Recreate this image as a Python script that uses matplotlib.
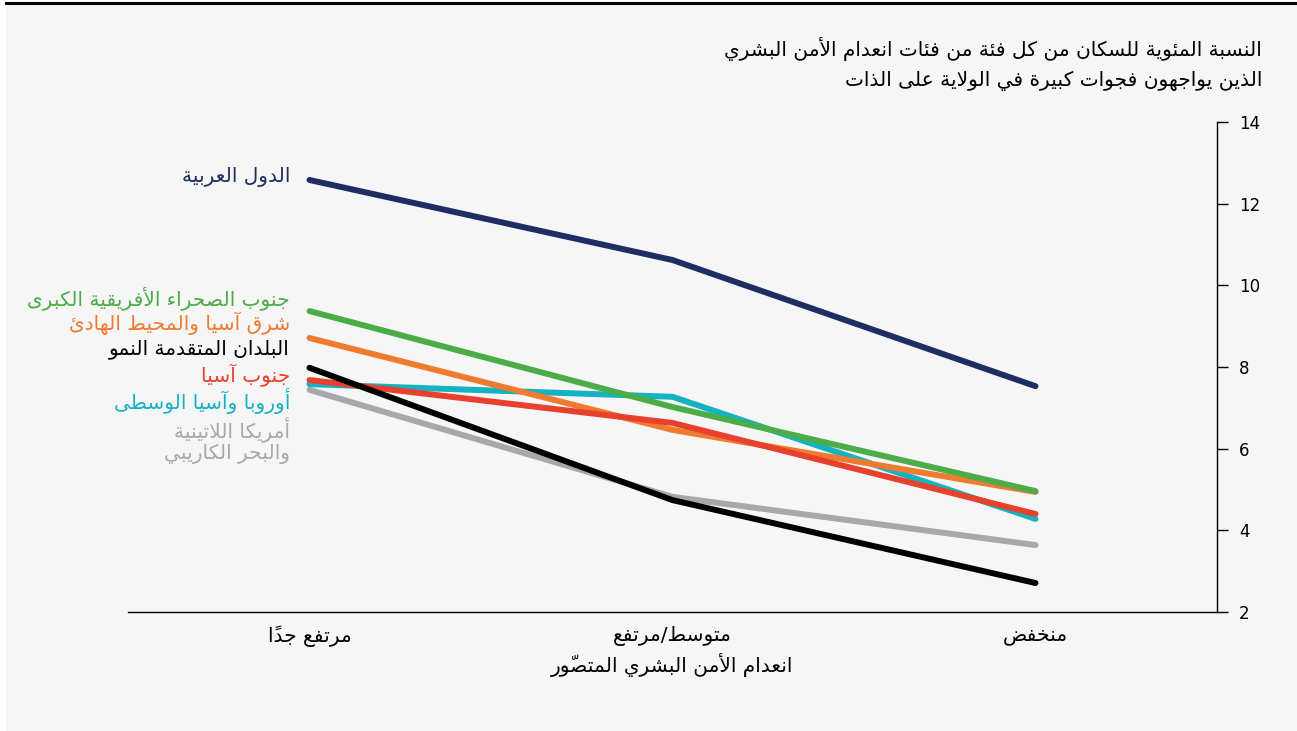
import matplotlib
matplotlib.use("Agg")
import matplotlib.pyplot as plt
from matplotlib.patches import Rectangle
from matplotlib.lines import Line2D

plt.rcParams['font.family'] = ['DejaVu Sans']

# --- data -------------------------------------------------------------
categories = ["مرتفع جداً", "متوسط/مرتفع", "منخفض"]
regions = [
    "أمريكا اللاتينية\nوالبحر الكاريبي",
    "أوروبا وآسيا الوسطى",
    "شرق آسيا والمحيط الهادئ",
    "جنوب الصحراء الأفريقية الكبرى",
    "جنوب آسيا",
    "البلدان المتقدمة النمو",
    "الدول العربية",
]
latam = [7.44, 4.82, 3.64]
eca = [7.58, 7.27, 4.28]
eap = [8.71, 6.46, 4.94]
ssa = [9.37, 7.02, 4.96]
sa = [7.68, 6.63, 4.40]
developed = [7.98, 4.74, 2.71]
arab = [12.58, 10.62, 7.53]
series = [latam, eca, eap, ssa, sa, developed, arab]
colors = ["#a7a8ac", "#15b2c1", "#ef7b31", "#4cac47", "#e7402d", "#000000", "#1e2d62"]
# where each region name sits, in y units of the axis
label_y = [6.21, 7.17, 9.08, 9.69, 7.80, 8.44, 12.65]

yticks = [2, 4, 6, 8, 10, 12, 14]
title = "النسبة المئوية للسكان من كل فئة من فئات انعدام الأمن البشري\nالذين يواجهون فجوات كبيرة في الولاية على الذات"
xlabel = "انعدام الأمن البشري المتصوّر"

# --- minimal arabic shaping (matplotlib has no bidi / joining) ---------
DUAL = {'ئ': 0xFE89, 'ب': 0xFE8F, 'ت': 0xFE95, 'ث': 0xFE99, 'ج': 0xFE9D,
        'ح': 0xFEA1, 'خ': 0xFEA5, 'س': 0xFEB1, 'ش': 0xFEB5, 'ص': 0xFEB9,
        'ض': 0xFEBD, 'ط': 0xFEC1, 'ظ': 0xFEC5, 'ع': 0xFEC9, 'غ': 0xFECD,
        'ف': 0xFED1, 'ق': 0xFED5, 'ك': 0xFED9, 'ل': 0xFEDD, 'م': 0xFEE1,
        'ن': 0xFEE5, 'ه': 0xFEE9, 'ي': 0xFEF1}
RIGHT = {'آ': 0xFE81, 'أ': 0xFE83, 'ؤ': 0xFE85, 'إ': 0xFE87, 'ا': 0xFE8D,
         'ة': 0xFE93, 'د': 0xFEA9, 'ذ': 0xFEAB, 'ر': 0xFEAD, 'ز': 0xFEAF,
         'و': 0xFEED, 'ى': 0xFEEF}
LAM_ALEF = {'آ': 0xFEF5, 'أ': 0xFEF7, 'إ': 0xFEF9, 'ا': 0xFEFB}
ISOLATED = {'ء': 0xFE80}


def is_mark(c):
    return 0x064B <= ord(c) <= 0x0652 or ord(c) == 0x0670


def shape_line(line):
    clusters = []
    for c in line:
        if is_mark(c) and clusters:
            clusters[-1][1] += c
        else:
            clusters.append([c, ""])
    # merge lam + alef into one ligature cluster
    merged = []
    i = 0
    while i < len(clusters):
        base, marks = clusters[i]
        if base == 'ل' and i + 1 < len(clusters) and clusters[i + 1][0] in LAM_ALEF:
            merged.append(["LA" + clusters[i + 1][0], marks + clusters[i + 1][1]])
            i += 2
        else:
            merged.append([base, marks])
            i += 1

    def jtype(b):
        if b in DUAL:
            return 'D'
        if b in RIGHT or b.startswith("LA"):
            return 'R'
        return 'U'

    types = [jtype(b) for b, _ in merged]
    out = []
    for k, (b, marks) in enumerate(merged):
        t = types[k]
        prev_j = k > 0 and types[k - 1] == 'D' and t in 'DR'
        next_j = t == 'D' and k + 1 < len(merged) and types[k + 1] in 'DR'
        if b.startswith("LA"):
            g = chr(LAM_ALEF[b[2]] + (1 if prev_j else 0))
        elif t == 'D':
            idx = 3 if (prev_j and next_j) else 1 if prev_j else 2 if next_j else 0
            g = chr(DUAL[b] + idx)
        elif t == 'R':
            g = chr(RIGHT[b] + (1 if prev_j else 0))
        elif b in ISOLATED:
            g = chr(ISOLATED[b])
        else:
            g = b
        out.append(g + marks)
    return "".join(reversed(out))


def ar(text):
    return "\n".join(shape_line(l) for l in text.split("\n"))


# --- figure -----------------------------------------------------------
W, H = 1297, 731
fig = plt.figure(figsize=(W / 100, H / 100), dpi=100, facecolor="white")
fig.patches.append(Rectangle((6 / W, 0), 1, (H - 3) / H, transform=fig.transFigure,
                             facecolor="#f6f6f6", edgecolor="none", zorder=-5))
fig.lines.append(Line2D([6 / W, 1], [1 - 3 / H, 1 - 3 / H], transform=fig.transFigure,
                        color="black", lw=2.2, zorder=-4))

ax = fig.add_axes([128 / W, (H - 612) / H, (1217 - 128) / W, (612 - 122) / H])
ax.set_facecolor("none")
ax.set_zorder(2)

x = list(range(len(categories)))
for vals, col in zip(series, colors):
    ax.plot(x, vals, color=col, lw=4.3, solid_capstyle="round",
            solid_joinstyle="miter", zorder=3, clip_on=False)

for name, col, ly in zip(regions, colors, label_y):
    ax.annotate(ar(name), xy=(0, ly), xycoords="data", xytext=(-14, 0),
                textcoords="offset points", ha="right", va="center",
                color=col, fontsize=14.5, linespacing=1.1)

ax.set_xlim(-0.5, 2.5)
ax.set_ylim(2, 14)
ax.set_yticks(yticks)
ax.yaxis.tick_right()
ax.tick_params(axis="y", length=8, width=1, pad=8, labelsize=12, direction="out")
ax.set_xticks(x)
ax.set_xticklabels([ar(c) for c in categories], fontsize=14.5)
ax.tick_params(axis="x", length=0, pad=10)
ax.set_xlabel(ar(xlabel), fontsize=14.5, labelpad=4)

for s in ["top", "left"]:
    ax.spines[s].set_visible(False)
ax.spines["right"].set_linewidth(1.0)
ax.spines["bottom"].set_linewidth(1.0)

fig.text(1262 / W, 1 - 64 / H, ar(title), ha="right", va="center", fontsize=14.5,
         linespacing=1.6)

fig.savefig("out.png", dpi=100, facecolor=fig.get_facecolor())
